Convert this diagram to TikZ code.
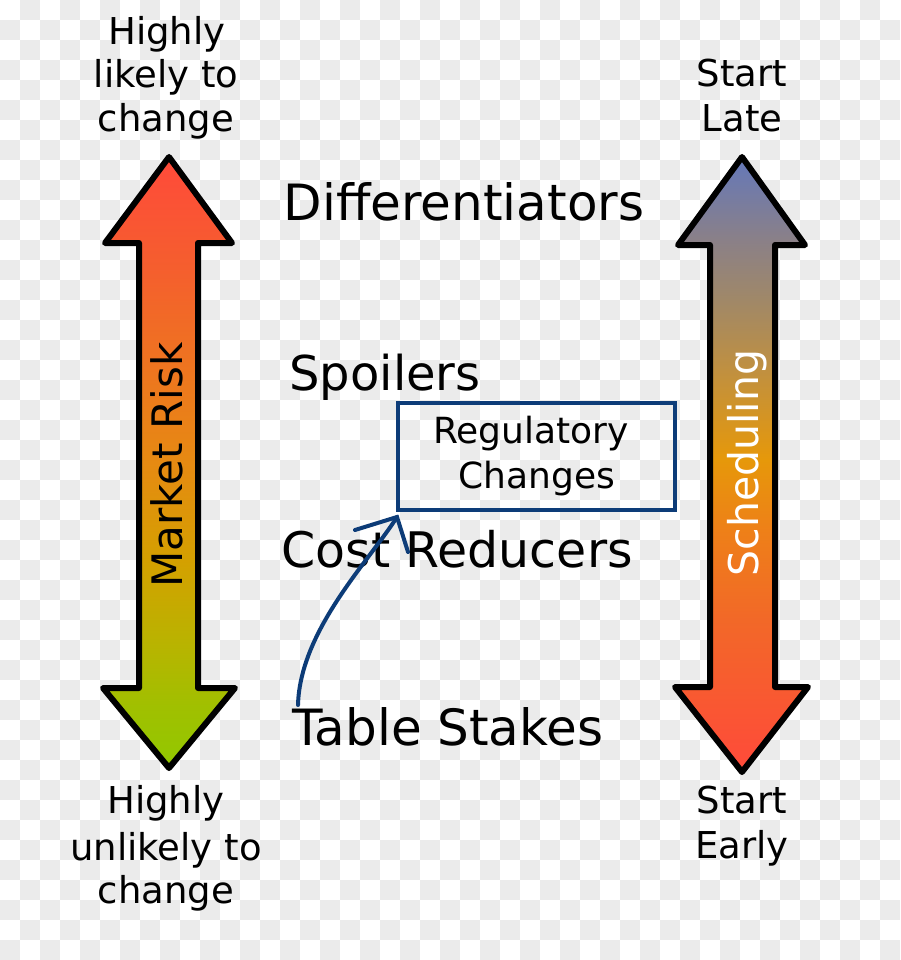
\documentclass[tikz,border=0pt]{standalone}
\usepackage{fontspec}
\setmainfont{DejaVu Sans}
\definecolor{checkgray}{HTML}{EBEBEB}
\definecolor{regblue}{HTML}{0D3C78}
% left arrow (market risk) colours, bottom to top
\definecolor{rk0}{HTML}{92C800}
\definecolor{rk1}{HTML}{A0C000}
\definecolor{rk2}{HTML}{B8B400}
\definecolor{rk3}{HTML}{D4A000}
\definecolor{rk4}{HTML}{E68A12}
\definecolor{rk5}{HTML}{EE7420}
\definecolor{rk6}{HTML}{F55E2E}
\definecolor{rk7}{HTML}{FF4A3A}
% right arrow (scheduling) colours, bottom to top
\definecolor{sc0}{HTML}{FF4A3A}
\definecolor{sc1}{HTML}{F26828}
\definecolor{sc2}{HTML}{EE8018}
\definecolor{sc3}{HTML}{E6980A}
\definecolor{sc4}{HTML}{C09040}
\definecolor{sc5}{HTML}{A08868}
\definecolor{sc6}{HTML}{8A8088}
\definecolor{sc7}{HTML}{6478BA}
\pgfdeclareverticalshading{riskshade}{100bp}{color(0bp)=(rk0); color(25bp)=(rk0); color(30bp)=(rk1); color(35bp)=(rk2); color(42bp)=(rk3); color(50bp)=(rk4); color(58bp)=(rk5); color(66bp)=(rk6); color(75bp)=(rk7); color(100bp)=(rk7)}
\pgfdeclareverticalshading{schedshade}{100bp}{color(0bp)=(sc0); color(25bp)=(sc0); color(37.4bp)=(sc1); color(44.7bp)=(sc2); color(50.4bp)=(sc3); color(57.7bp)=(sc4); color(63.4bp)=(sc5); color(68.3bp)=(sc6); color(75bp)=(sc7); color(100bp)=(sc7)}
\begin{document}
\begin{tikzpicture}[x=1pt,y=-1pt,
  sidetxt/.style={inner sep=0pt, anchor=base, font=\fontsize{37}{44}\selectfont},
  maintxt/.style={inner sep=0pt, anchor=base, font=\fontsize{49}{58}\selectfont},
  regtxt/.style={inner sep=0pt, anchor=base, font=\fontsize{36}{44}\selectfont},
  bigarrow/.style={draw=black, line width=6pt, line join=round},
  regbox/.style={draw=regblue, line width=3.5pt, inner sep=0pt, minimum width=277pt, minimum height=107pt},
  curvestyle/.style={draw=regblue, line width=4pt, line cap=round}]
\useasboundingbox (0,0) rectangle (900,960);
\fill[white] (0,0) rectangle (900,960);
\foreach \i in {0,...,44}{\foreach \j in {0,...,47}{%
  \pgfmathtruncatemacro{\chkpar}{mod(\i+\j,2)}%
  \ifnum\chkpar=1 \fill[checkgray] (\i*20,\j*20) rectangle ++(20,20);\fi}}

% left arrow
\shadedraw[shading=riskshade, bigarrow] (169,157) -- (232,243) -- (198,243) -- (198,688) -- (235,688) -- (169,768) -- (103,688) -- (139,688) -- (139,243) -- (105,243) -- cycle;
% right arrow
\shadedraw[shading=schedshade, bigarrow] (742,157) -- (805,245) -- (775,245) -- (775,687) -- (808,687) -- (742,772) -- (675,687) -- (710,687) -- (710,245) -- (678,245) -- cycle;

\node[rotate=90, anchor=base, inner sep=0pt, font=\fontsize{42}{50}\selectfont] (mrisk) at (182,465) {Market Risk};
\node[rotate=90, anchor=base, inner sep=0pt, text=white, font=\fontsize{41}{50}\selectfont] (sched) at (758,463) {Scheduling};

\node[sidetxt] (hl1) at (167,45) {Highly};
\node[sidetxt] (hl2) at (166,88) {likely to};
\node[sidetxt] (hl3) at (166,132) {change};
\node[sidetxt] (hu1) at (166,813) {Highly};
\node[sidetxt] (hu2) at (166,860) {unlikely to};
\node[sidetxt] (hu3) at (166,903) {change};
\node[sidetxt] (sl1) at (742,87) {Start};
\node[sidetxt] (sl2) at (742,132) {Late};
\node[sidetxt] (se1) at (742,813) {Start};
\node[sidetxt] (se2) at (742,858) {Early};

\node[maintxt, font=\fontsize{50}{58}\selectfont] (diff) at (464,220) {Differentiators};
\node[maintxt, font=\fontsize{48}{58}\selectfont] (spoil) at (385,390) {Spoilers};
\node[maintxt] (cost) at (457,567) {Cost Reducers};
\node[maintxt, font=\fontsize{50}{58}\selectfont] (table) at (448,745) {Table Stakes};

\node[regbox] (reg) at (536.5,456.5) {};
\node[regtxt] (reg1) at (531,443) {Regulatory};
\node[regtxt] (reg2) at (537,488) {Changes};

\coordinate (cs) at (298,705);
\coordinate (ct) at (397,517);
\coordinate (b1) at (355,530);
\coordinate (b2) at (408,552);
\draw[curvestyle] (cs) .. controls (300,630) and (370,560) .. (ct);
\draw[curvestyle, line join=miter] (b1) -- (ct) -- (b2);
\end{tikzpicture}
\end{document}
